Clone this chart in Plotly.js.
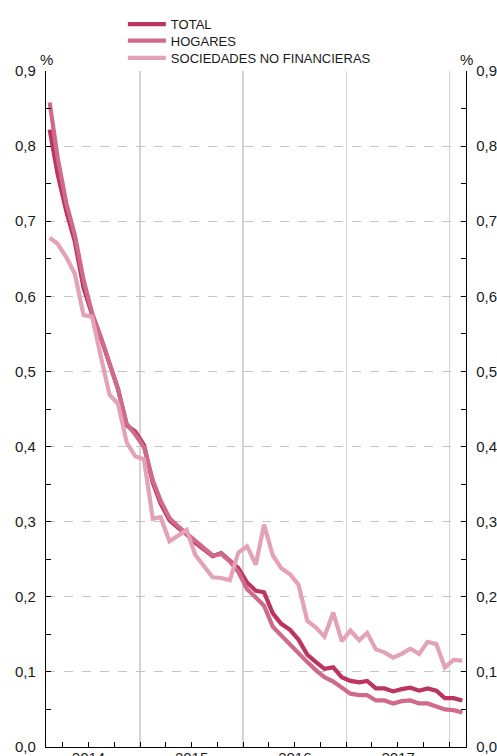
<!DOCTYPE html>
<html>
<head>
<meta charset="utf-8">
<script src="https://cdn.plot.ly/plotly-3.0.1.min.js"></script>
<style>
  html, body { margin: 0; padding: 0; background: #fff; }
  #chart { width: 497px; height: 756px; }
</style>
</head>
<body>
<div id="chart"></div>
<script>
// Monthly observations, Feb 2014 - Feb 2018 (plotted at mid-month)
const months = [
  '2014-02','2014-03','2014-04','2014-05','2014-06','2014-07','2014-08','2014-09','2014-10','2014-11','2014-12',
  '2015-01','2015-02','2015-03','2015-04','2015-05','2015-06','2015-07','2015-08','2015-09','2015-10','2015-11','2015-12',
  '2016-01','2016-02','2016-03','2016-04','2016-05','2016-06','2016-07','2016-08','2016-09','2016-10','2016-11','2016-12',
  '2017-01','2017-02','2017-03','2017-04','2017-05','2017-06','2017-07','2017-08','2017-09','2017-10','2017-11','2017-12',
  '2018-01','2018-02'
];

const total = [
  0.822,0.763,0.713,0.673,0.611,0.576,0.545,0.510,0.477,0.428,0.420,
  0.402,0.352,0.324,0.302,0.292,0.283,0.272,0.263,0.254,0.258,0.248,0.238,
  0.219,0.208,0.206,0.178,0.164,0.156,0.143,0.123,0.113,0.104,0.106,0.093,
  0.088,0.086,0.088,0.078,0.078,0.074,0.077,0.079,0.075,0.078,0.075,0.065,
  0.065,0.062
];

const hogares = [
  0.858,0.785,0.724,0.682,0.622,0.578,0.546,0.511,0.476,0.430,0.416,
  0.399,0.355,0.328,0.305,0.294,0.284,0.274,0.264,0.255,0.257,0.247,0.233,
  0.210,0.199,0.188,0.160,0.148,0.137,0.125,0.113,0.102,0.093,0.087,0.079,
  0.071,0.069,0.069,0.062,0.062,0.058,0.061,0.062,0.058,0.058,0.054,0.050,
  0.049,0.046
];

const sociedades = [
  0.678,0.670,0.652,0.630,0.575,0.573,0.520,0.469,0.457,0.405,0.387,
  0.383,0.304,0.306,0.274,0.281,0.289,0.256,0.240,0.226,0.225,0.222,0.259,
  0.267,0.243,0.296,0.255,0.238,0.230,0.216,0.168,0.159,0.147,0.179,0.141,
  0.155,0.142,0.152,0.130,0.126,0.119,0.124,0.131,0.124,0.140,0.137,0.106,
  0.116,0.115
];

const seriesNames = ['TOTAL', 'HOGARES', 'SOCIEDADES NO FINANCIERAS'];
const seriesColors = ['#bc3460', '#d06a8d', '#e3a2b5'];
const legendIds = ['legend', 'legend2', 'legend3'];
const legendY = [1.0915, 1.0670, 1.0414];

const x = months.map(m => m + '-15');

const traces = [total, hogares, sociedades].map((vals, i) => ({
  type: 'scatter',
  mode: 'lines',
  x: x,
  y: vals,
  name: seriesNames[i],
  legend: legendIds[i],
  line: { color: seriesColors[i], width: 4.2 },
  hoverinfo: 'skip'
}));

const fontFam = '"Liberation Sans", Arial, Helvetica, sans-serif';

function legendBox(yPos) {
  return {
    x: 0.183, xanchor: 'left',
    y: yPos, yanchor: 'top',
    orientation: 'v',
    itemwidth: 38,
    font: { family: fontFam, size: 13, color: '#1a1a1a' },
    bgcolor: 'rgba(0,0,0,0)',
    borderwidth: 0
  };
}

const layout = {
  width: 497,
  height: 756,
  margin: { l: 46, r: 31, t: 68, b: 9, pad: 0 },
  paper_bgcolor: '#ffffff',
  plot_bgcolor: '#ffffff',
  separators: ',.',
  font: { family: fontFam, size: 15, color: '#1a1a1a' },
  showlegend: true,
  legend: legendBox(legendY[0]),
  legend2: legendBox(legendY[1]),
  legend3: legendBox(legendY[2]),
  xaxis: {
    type: 'date',
    range: ['2014-02-02', '2018-02-28'],
    tick0: '2014-01-01',
    dtick: 'M12',
    tickformat: '%Y',
    ticklabelmode: 'period',
    ticks: 'inside',
    ticklen: 5,
    tickcolor: '#000',
    ticklabelstandoff: -3,
    showgrid: true,
    gridcolor: '#d4d4d4',
    gridwidth: 1.5,
    showline: true,
    linecolor: '#000',
    linewidth: 1.2,
    zeroline: false,
    minor: { dtick: 'M3', tick0: '2014-01-01', ticks: 'inside', ticklen: 5, tickcolor: '#000', showgrid: false },
    fixedrange: true
  },
  yaxis: {
    range: [0, 0.9],
    dtick: 0.1,
    tick0: 0,
    tickformat: '.1f',
    ticks: 'inside',
    ticklen: 5,
    tickcolor: '#000',
    showgrid: true,
    gridcolor: '#c4c4c4',
    griddash: 'dash',
    gridwidth: 1,
    showline: true,
    linecolor: '#000',
    linewidth: 1.2,
    zeroline: false,
    ticklabelstandoff: 6,
    minor: { dtick: 0.05, tick0: 0, ticks: 'inside', ticklen: 5, tickcolor: '#000', showgrid: false },
    fixedrange: true
  },
  yaxis2: {
    overlaying: 'y',
    side: 'right',
    range: [0, 0.9],
    dtick: 0.1,
    tick0: 0,
    tickformat: '.1f',
    ticks: 'inside',
    ticklen: 5,
    tickcolor: '#000',
    showgrid: false,
    showline: true,
    linecolor: '#000',
    linewidth: 1.2,
    zeroline: false,
    ticklabelstandoff: 6,
    minor: { dtick: 0.05, tick0: 0, ticks: 'inside', ticklen: 5, tickcolor: '#000', showgrid: false },
    fixedrange: true
  },
  annotations: [
    { xref: 'paper', yref: 'paper', x: 0, y: 1, xanchor: 'center', yanchor: 'bottom', yshift: 1,
      text: '%', showarrow: false, font: { family: fontFam, size: 15, color: '#1a1a1a' } },
    { xref: 'paper', yref: 'paper', x: 1, y: 1, xanchor: 'center', yanchor: 'bottom', yshift: 1,
      text: '%', showarrow: false, font: { family: fontFam, size: 15, color: '#1a1a1a' } }
  ]
};

// invisible trace to anchor the right axis
traces.push({ type: 'scatter', mode: 'lines', x: [x[0]], y: [null], yaxis: 'y2', showlegend: false, hoverinfo: 'skip' });

Plotly.newPlot('chart', traces, layout, { displayModeBar: false, staticPlot: true });
</script>
</body>
</html>
